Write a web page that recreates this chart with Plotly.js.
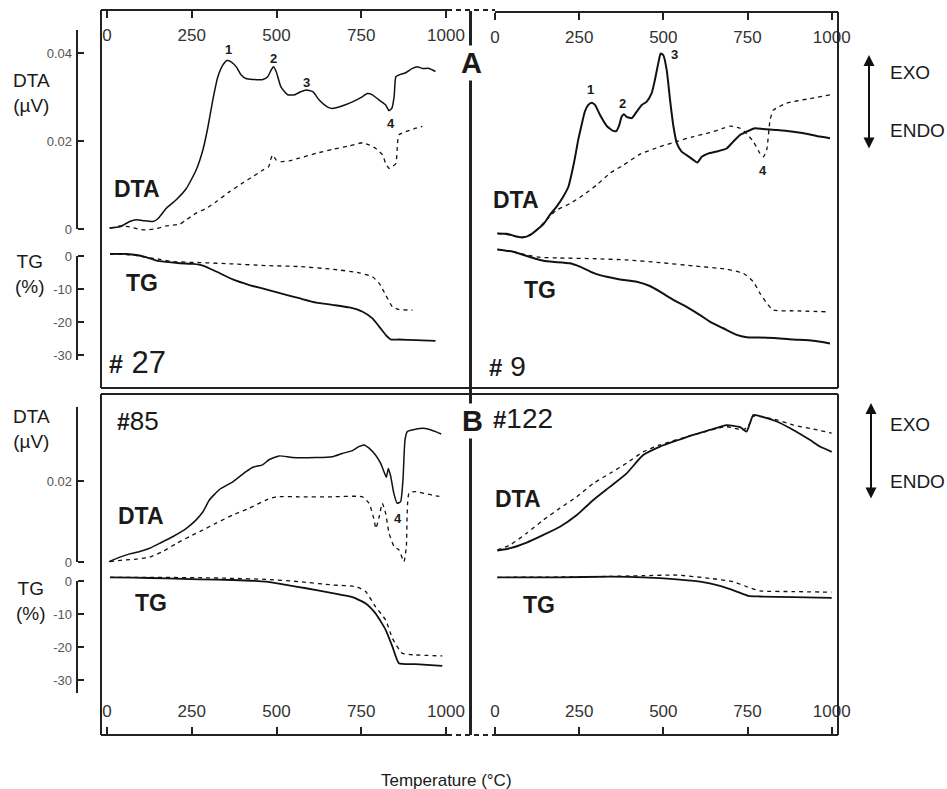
<!DOCTYPE html>
<html>
<head>
<meta charset="utf-8">
<script src="https://cdn.plot.ly/plotly-3.0.1.min.js"></script>
<style>html,body{margin:0;padding:0;background:#fff;}#chart{width:947px;height:789px;}</style>
</head>
<body>
<div id="chart"></div>
<script>
// ---------------- DATA (temperature in °C, DTA in µV, TG in %) ----------------
const xTicks = [0, 250, 500, 750, 1000];
const xTickText = ['0', '250', '500', '750', '1000'];
const dtaTicksTop = [0, 0.02, 0.04];
const dtaTickTextTop = ['0', '0.02', '0.04'];
const dtaTicksBottom = [0, 0.02];
const dtaTickTextBottom = ['0', '0.02'];
const tgTicks = [0, -10, -20, -30];
const tgTickText = ['0', '-10', '-20', '-30'];

// Sample #27 (top-left)
const s27DtaT = [7,38,67,87,106,136,151,175,205,234,263,283,298,312,327,342,354,366,381,396,410,430,460,474,484,491,499,513,533,553,572,587,607,626,651,665,695,724,754,768,783,803,822,832,840,847,852,861,881,901,915,930,950,969];
const s27Dta = [0.0002,0.0005,0.0017,0.0021,0.0019,0.0017,0.0024,0.0047,0.0067,0.0092,0.0134,0.0180,0.0233,0.0293,0.0346,0.0373,0.0383,0.0380,0.0369,0.0350,0.0342,0.0340,0.0340,0.0346,0.0361,0.0369,0.0358,0.0323,0.0305,0.0305,0.0312,0.0316,0.0312,0.0293,0.0277,0.0274,0.0280,0.0289,0.0301,0.0308,0.0305,0.0293,0.0282,0.0269,0.0274,0.0301,0.0346,0.0350,0.0355,0.0365,0.0369,0.0365,0.0365,0.0358];
const s27DtaRefT = [9,38,67,97,117,146,175,215,234,263,293,322,362,401,430,460,477,484,489,499,513,538,567,617,665,715,754,773,793,813,822,832,842,852,857,861,881,911,930];
const s27DtaRef = [0.0002,0.0007,0.0005,-0.0001,-0.0002,0.0001,0.0007,0.0011,0.0021,0.0036,0.0047,0.0062,0.0085,0.0105,0.0119,0.0134,0.0142,0.0161,0.0168,0.0157,0.0153,0.0155,0.0161,0.0172,0.0181,0.0189,0.0196,0.0191,0.0183,0.0168,0.0149,0.0138,0.0142,0.0149,0.0195,0.0214,0.0221,0.0229,0.0233];
const s27TgT = [9,58,87,117,146,175,215,254,283,322,371,420,469,518,567,617,665,715,754,783,803,822,837,861,911,969];
const s27Tg = [0.6,0.6,0.3,-0.4,-1.4,-1.8,-2.2,-2.4,-2.9,-4.7,-7.1,-8.8,-10.1,-11.5,-12.8,-14.1,-14.8,-15.6,-16.9,-18.9,-21.4,-23.9,-25.3,-25.3,-25.5,-25.7];
const s27TgRefT = [9,77,117,156,195,274,371,469,567,665,744,783,803,822,842,861,901];
const s27TgRef = [0.6,0.3,-0.4,-1.0,-1.7,-2.0,-2.4,-2.9,-3.2,-4.0,-5.1,-6.3,-8.3,-11.8,-15.4,-16.2,-16.4];

// Sample #9 (top-right)
const s9DtaT = [7,35,64,84,104,124,144,163,183,203,218,228,238,247,257,267,277,287,297,312,332,351,361,369,376,383,391,406,421,436,450,465,475,485,492,500,510,520,530,540,554,569,589,601,614,634,658,688,708,728,747,772,797,837,886,936,965,995];
const s9Dta = [-0.0010,-0.0011,-0.0017,-0.0019,-0.0014,-0.0002,0.0011,0.0032,0.0051,0.0074,0.0096,0.0127,0.0164,0.0202,0.0236,0.0267,0.0282,0.0287,0.0282,0.0259,0.0234,0.0223,0.0223,0.0236,0.0255,0.0261,0.0255,0.0252,0.0267,0.0282,0.0289,0.0308,0.0339,0.0377,0.0399,0.0395,0.0361,0.0293,0.0233,0.0195,0.0176,0.0168,0.0157,0.0151,0.0164,0.0172,0.0176,0.0183,0.0199,0.0214,0.0221,0.0229,0.0227,0.0225,0.0221,0.0215,0.0210,0.0206];
const s9DtaRefT = [7,45,74,94,124,153,183,223,262,302,342,381,431,490,540,589,638,678,698,728,747,767,787,797,807,817,827,866,926,995];
const s9DtaRef = [-0.0010,-0.0014,-0.0019,-0.0017,-0.0002,0.0021,0.0043,0.0058,0.0077,0.0100,0.0127,0.0145,0.0170,0.0187,0.0199,0.0210,0.0219,0.0229,0.0234,0.0229,0.0217,0.0199,0.0172,0.0164,0.0180,0.0248,0.0270,0.0286,0.0295,0.0305];
const s9TgT = [7,54,94,134,163,223,252,292,332,371,421,460,490,530,569,609,638,678,718,747,787,837,886,945,995];
const s9Tg = [2.0,1.3,0,-1.2,-1.7,-2.2,-3.2,-5.1,-6.3,-7.1,-7.8,-9.1,-10.8,-13.3,-15.4,-17.9,-19.9,-21.9,-23.9,-24.6,-24.7,-24.9,-25.3,-25.7,-26.5];
const s9TgRefT = [7,54,94,134,193,292,391,490,589,688,738,767,787,807,827,886,985];
const s9TgRef = [2.0,1.3,0.3,-0.4,-0.6,-0.8,-1.2,-2.0,-3.0,-4.0,-5.3,-7.8,-11.3,-14.3,-16.4,-16.6,-16.9];

// Sample #85 (bottom-left)
const s85DtaT = [6,38,67,97,126,155,195,234,263,283,302,332,371,410,430,459,479,508,547,616,665,694,724,743,758,773,792,807,817,824,830,837,846,856,866,873,879,886,900,930,949,969,986];
const s85Dta = [0.0001,0.0012,0.0020,0.0026,0.0034,0.0046,0.0063,0.0083,0.0104,0.0124,0.0153,0.0179,0.0198,0.0223,0.0234,0.0240,0.0253,0.0262,0.0258,0.0258,0.0260,0.0268,0.0275,0.0285,0.0289,0.0281,0.0264,0.0244,0.0223,0.0209,0.0231,0.0211,0.0170,0.0145,0.0149,0.0202,0.0301,0.0322,0.0326,0.0330,0.0328,0.0322,0.0316];
const s85DtaRefT = [9,48,87,126,165,205,244,283,322,371,420,469,499,567,665,753,773,788,793,803,812,822,832,847,861,876,883,891,910,959,989];
const s85DtaRef = [0.0001,0.0005,0.0007,0.0012,0.0026,0.0046,0.0063,0.0079,0.0096,0.0116,0.0133,0.0153,0.0161,0.0161,0.0161,0.0161,0.0145,0.0104,0.0083,0.0112,0.0145,0.0120,0.0071,0.0038,0.0030,0.0001,0.0038,0.0170,0.0174,0.0165,0.0161];
const s85TgT = [9,77,175,273,371,469,528,587,665,724,763,792,822,842,861,910,989];
const s85Tg = [1.1,1.0,0.8,0.5,0.3,-0.2,-1.2,-2.2,-3.7,-4.9,-6.8,-9.8,-14.8,-19.9,-24.9,-25.2,-25.7];
const s85TgRefT = [9,126,273,371,469,567,665,734,763,792,822,842,871,910,989];
const s85TgRef = [1.1,1.1,1.0,0.8,0.5,-0.2,-1.2,-1.7,-3.2,-7.8,-11.8,-17.4,-21.9,-22.4,-22.7];

// Sample #122 (bottom-right)
const s122DtaT = [7,45,94,144,193,243,292,342,391,440,490,540,589,638,688,728,747,757,767,787,837,886,936,965,1000];
const s122Dta = [0.0028,0.0034,0.0048,0.0067,0.0087,0.0116,0.0153,0.0186,0.0219,0.0264,0.0285,0.0300,0.0314,0.0326,0.0338,0.0333,0.0322,0.0342,0.0363,0.0360,0.0347,0.0326,0.0301,0.0285,0.0272];
const s122DtaRefT = [7,45,94,144,193,243,292,342,391,440,490,589,688,738,757,767,837,886,936,1000];
const s122DtaRef = [0.0030,0.0042,0.0071,0.0104,0.0133,0.0161,0.0194,0.0219,0.0244,0.0272,0.0289,0.0314,0.0334,0.0326,0.0342,0.0360,0.0351,0.0338,0.0330,0.0318];
const s122TgT = [7,193,342,440,540,609,668,718,752,787,886,1000];
const s122Tg = [1.1,1.1,1.3,1.1,0.5,-0.2,-1.5,-3.2,-4.5,-4.7,-4.9,-5.1];
const s122TgRefT = [7,292,440,540,638,708,747,787,886,1000];
const s122TgRef = [1.1,1.3,1.6,1.8,0.8,-0.2,-1.7,-3.0,-3.2,-3.4];

// ---------------- LAYOUT HELPERS ----------------
const W = 947, H = 789;
const FONT = 'Liberation Sans, Arial, Helvetica, sans-serif';
const INK = '#111';
const FRAME = '#222';
const xp = p => p / W;
const yp = p => 1 - p / H;
const xRange = (zeroPx, ppu, left, right) => [(left - zeroPx) / ppu, (right - zeroPx) / ppu];
const yRange = (zeroPx, ppu, top, bottom) => [(zeroPx - bottom) / ppu, (zeroPx - top) / ppu];
const yVal = (zeroPx, ppu, p) => (zeroPx - p) / ppu;

const SC = {
  xL: {zero: 107, ppu: 0.339, left: 101, right: 447},
  xR: {zero: 495, ppu: 0.3367, left: 495, right: 838},
  dtaTop: {zero: 229, ppu: 4400},
  tgTop: {zero: 256, ppu: 3.3},
  dtaBot: {zero: 562, ppu: 4050},
  tgBot: {zero: 581, ppu: 3.3},
  top: {t: 11, b: 388},
  bot: {t: 394, b: 735}
};

function trace(x, y, xa, ya, dashed, w) {
  return {
    type: 'scatter', mode: 'lines', x: x, y: y, xaxis: xa, yaxis: ya,
    line: {color: INK, width: w, dash: dashed ? '4px,4px' : 'solid', shape: 'spline', smoothing: 0.5},
    hoverinfo: 'skip', showlegend: false
  };
}

const data = [
  trace(s27DtaRefT, s27DtaRef, 'x', 'y', true, 1.3),
  trace(s27DtaT, s27Dta, 'x', 'y', false, 1.5),
  trace(s27TgRefT, s27TgRef, 'x', 'y2', true, 1.3),
  trace(s27TgT, s27Tg, 'x', 'y2', false, 1.8),
  trace(s9DtaRefT, s9DtaRef, 'x2', 'y', true, 1.3),
  trace(s9DtaT, s9Dta, 'x2', 'y', false, 2.0),
  trace(s9TgRefT, s9TgRef, 'x2', 'y2', true, 1.3),
  trace(s9TgT, s9Tg, 'x2', 'y2', false, 2.0),
  trace(s85DtaRefT, s85DtaRef, 'x3', 'y3', true, 1.3),
  trace(s85DtaT, s85Dta, 'x3', 'y3', false, 1.5),
  trace(s85TgRefT, s85TgRef, 'x3', 'y4', true, 1.3),
  trace(s85TgT, s85Tg, 'x3', 'y4', false, 1.8),
  trace(s122DtaRefT, s122DtaRef, 'x4', 'y3', true, 1.3),
  trace(s122DtaT, s122Dta, 'x4', 'y3', false, 1.8),
  trace(s122TgRefT, s122TgRef, 'x4', 'y4', true, 1.3),
  trace(s122TgT, s122Tg, 'x4', 'y4', false, 1.8)
];

function xAxis(sc, posPx, side) {
  return {
    domain: [xp(sc.left), xp(sc.right)], range: xRange(sc.zero, sc.ppu, sc.left, sc.right),
    anchor: 'free', position: yp(posPx), side: side,
    showline: true, linewidth: 2, linecolor: FRAME,
    ticks: 'outside', ticklen: 7, tickwidth: 2, tickcolor: FRAME,
    tickvals: xTicks, ticktext: xTickText, ticklabelstandoff: 3,
    tickfont: {family: FONT, size: 17, color: '#333'},
    showgrid: false, zeroline: false, fixedrange: true
  };
}
function yAxis(sc, panel, vals, txt) {
  return {
    domain: [yp(panel.b), yp(panel.t)], range: yRange(sc.zero, sc.ppu, panel.t, panel.b),
    anchor: 'free', position: xp(77), side: 'left',
    showline: false, ticks: 'inside', ticklen: 6, tickwidth: 2, tickcolor: FRAME,
    tickvals: vals, ticktext: txt, ticklabelstandoff: 5,
    tickfont: {family: FONT, size: 13, color: '#555'},
    showgrid: false, zeroline: false, fixedrange: true
  };
}

function seg(x0, y0, x1, y1, w, dash) {
  return {type: 'line', xref: 'paper', yref: 'paper', x0: xp(x0), x1: xp(x1), y0: yp(y0), y1: yp(y1),
          line: {color: FRAME, width: w, dash: dash || 'solid'}};
}
function scaleLine(ya, y0, y1) {
  return {type: 'line', xref: 'paper', yref: ya, x0: xp(77), x1: xp(77), y0: y0, y1: y1,
          line: {color: FRAME, width: 2}};
}

const shapes = [
  seg(101, 10, 101, 388, 2), seg(838, 12, 838, 388, 2),
  seg(101, 388, 838, 388, 2), seg(101, 394, 838, 394, 2),
  seg(101, 394, 101, 735, 2), seg(838, 394, 838, 735, 2),
  seg(447, 10, 495, 10, 2, '5px,4px'), seg(447, 735, 495, 735, 2, '5px,4px'),
  seg(470.5, 11, 470.5, 735, 3),
  scaleLine('y', 0, yVal(SC.dtaTop.zero, SC.dtaTop.ppu, 30)),
  scaleLine('y2', 0, yVal(SC.tgTop.zero, SC.tgTop.ppu, 360)),
  scaleLine('y3', 0, yVal(SC.dtaBot.zero, SC.dtaBot.ppu, 407)),
  scaleLine('y4', 0, yVal(SC.tgBot.zero, SC.tgBot.ppu, 693))
];

function note(text, x, y, size, opts) {
  return Object.assign({
    text: text, xref: 'paper', yref: 'paper', x: xp(x), y: yp(y),
    xanchor: 'center', yanchor: 'middle', showarrow: false,
    font: {family: FONT, size: size, color: '#1a1a1a'}
  }, opts || {});
}
function arrow(x, yTop, yBot) {
  return {
    text: '', xref: 'paper', yref: 'paper', x: xp(x), y: yp(yTop),
    axref: 'pixel', ayref: 'pixel', ax: 0, ay: yBot - yTop,
    showarrow: true, arrowside: 'end+start', arrowhead: 2, startarrowhead: 2,
    arrowsize: 1.1, startarrowsize: 1.1, arrowwidth: 2, arrowcolor: INK,
    standoff: 0, startstandoff: 0
  };
}
const hashId = (n, small, sp) => "<span style='font-size:" + small + "px'><b>#</b></span>" + (sp ? ' ' : '') + n;

const annotations = [
  note('DTA<br>(µV)', 31, 93, 19),
  note('TG<br>(%)', 30, 274, 19),
  note('DTA<br>(µV)', 32, 429, 19),
  note('TG<br>(%)', 31, 601, 19),
  note('<b>DTA</b>', 137, 189, 23), note('<b>TG</b>', 142, 283, 23),
  note('<b>DTA</b>', 516, 200, 23), note('<b>TG</b>', 540, 290, 23),
  note('<b>DTA</b>', 141, 516, 23), note('<b>TG</b>', 151, 603, 23),
  note('<b>DTA</b>', 518, 499, 23), note('<b>TG</b>', 539, 605, 23),
  note(hashId('27', 25, true), 137, 362, 31),
  note(hashId('9', 24, true), 507, 366, 28),
  note(hashId('85', 23, false), 138, 421, 26),
  note(hashId('122', 24, false), 523, 419, 28),
  note('<b>1</b>', 228, 49, 13), note('<b>2</b>', 273, 58, 13), note('<b>3</b>', 306, 82, 13), note('<b>4</b>', 391, 123, 13),
  note('<b>1</b>', 590, 89, 13), note('<b>2</b>', 622, 104, 13), note('<b>3</b>', 674, 55, 13), note('<b>4</b>', 763, 170, 13),
  note('<b>4</b>', 398, 518, 13),
  note('<b>A</b>', 471, 63, 29, {bgcolor: '#ffffff', borderpad: 1}),
  note('<b>B</b>', 472, 421, 29, {bgcolor: '#ffffff', borderpad: 1}),
  note('EXO', 888, 72, 19, {xanchor: 'left'}), note('ENDO', 888, 130, 19, {xanchor: 'left'}),
  note('EXO', 888, 424, 19, {xanchor: 'left'}), note('ENDO', 888, 481, 19, {xanchor: 'left'}),
  note('Temperature (°C)', 446, 780, 17),
  arrow(869, 55, 150),
  arrow(871, 403, 500)
];

const layout = {
  width: W, height: H,
  margin: {l: 0, r: 0, t: 0, b: 0},
  paper_bgcolor: '#ffffff', plot_bgcolor: 'rgba(0,0,0,0)',
  showlegend: false,
  font: {family: FONT, color: '#1a1a1a'},
  xaxis: xAxis(SC.xL, 10, 'bottom'),
  xaxis2: xAxis(SC.xR, 12, 'bottom'),
  xaxis3: xAxis(SC.xL, 735, 'top'),
  xaxis4: xAxis(SC.xR, 735, 'top'),
  yaxis: yAxis(SC.dtaTop, SC.top, dtaTicksTop, dtaTickTextTop),
  yaxis2: yAxis(SC.tgTop, SC.top, tgTicks, tgTickText),
  yaxis3: yAxis(SC.dtaBot, SC.bot, dtaTicksBottom, dtaTickTextBottom),
  yaxis4: yAxis(SC.tgBot, SC.bot, tgTicks, tgTickText),
  shapes: shapes,
  annotations: annotations
};

Plotly.newPlot('chart', data, layout, {staticPlot: true, displayModeBar: false});
</script>
</body>
</html>
